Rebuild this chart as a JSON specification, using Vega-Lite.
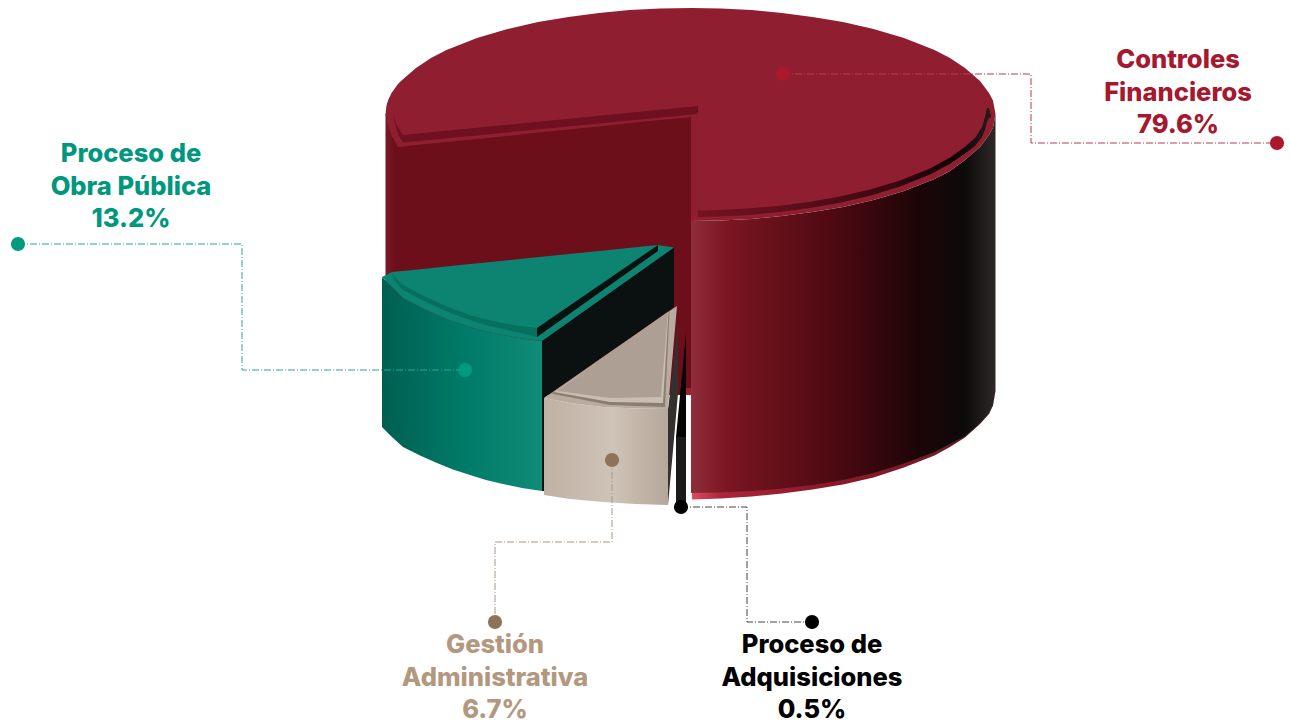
{"$schema":"https://vega.github.io/schema/vega-lite/v6.json","width":1290,"height":721,"padding":0,"autosize":"none","background":"white","config":{"view":{"stroke":null}},
"data":{"values":[
{"part":"back","x":385.5,"y":114,"y2":395},{"part":"back","x":691,"y":117,"y2":395},
{"part":"backEdge","x":684,"y":388,"y2":395},{"part":"backEdge","x":691,"y":388,"y2":395},
{"part":"lip","x":692,"y":492,"y2":499.5},{"part":"lip","x":721,"y":491,"y2":498.5},{"part":"lip","x":751.5,"y":490,"y2":496.5},{"part":"lip","x":782,"y":487.5,"y2":493.5},{"part":"lip","x":812.5,"y":484,"y2":489.5},{"part":"lip","x":843,"y":479,"y2":484.5},{"part":"lip","x":873.5,"y":472,"y2":477.5},{"part":"lip","x":904,"y":462.5,"y2":467.5},{"part":"lip","x":934.5,"y":451,"y2":455.5},{"part":"lip","x":950,"y":443,"y2":447},{"part":"lip","x":965,"y":435,"y2":437.5},{"part":"lip","x":980,"y":422,"y2":424},{"part":"lip","x":989,"y":412,"y2":414},{"part":"lip","x":993,"y":404,"y2":405.5},{"part":"lip","x":995.5,"y":391,"y2":391},
{"part":"wall","x":691,"y":221,"y2":493},{"part":"wall","x":721,"y":220.5,"y2":492.5},{"part":"wall","x":751.5,"y":219,"y2":491},{"part":"wall","x":782,"y":216,"y2":488.5},{"part":"wall","x":812.5,"y":212,"y2":485},{"part":"wall","x":843,"y":207,"y2":480},{"part":"wall","x":873.5,"y":200,"y2":473},{"part":"wall","x":904,"y":191,"y2":463.5},{"part":"wall","x":934.5,"y":179,"y2":452},{"part":"wall","x":950,"y":171,"y2":444},{"part":"wall","x":965,"y":160,"y2":436},{"part":"wall","x":980,"y":147,"y2":423},{"part":"wall","x":989,"y":135,"y2":413},{"part":"wall","x":993,"y":127.5,"y2":405},{"part":"wall","x":995.5,"y":114,"y2":391},
{"part":"plateR","x":691,"y":8,"y2":221},{"part":"plateR","x":721,"y":8.5,"y2":220.5},{"part":"plateR","x":751.5,"y":10,"y2":219},{"part":"plateR","x":782,"y":13,"y2":216},{"part":"plateR","x":812.5,"y":17,"y2":212},{"part":"plateR","x":843,"y":22,"y2":207},{"part":"plateR","x":873.5,"y":29,"y2":200},{"part":"plateR","x":904,"y":38,"y2":191},{"part":"plateR","x":934.5,"y":50,"y2":179},{"part":"plateR","x":950,"y":58,"y2":171},{"part":"plateR","x":965,"y":68,"y2":160},{"part":"plateR","x":980,"y":81,"y2":147},{"part":"plateR","x":989,"y":93,"y2":135},{"part":"plateR","x":993,"y":100.5,"y2":127.5},{"part":"plateR","x":995.5,"y":114,"y2":114},
{"part":"plateL","x":385.5,"y":114,"y2":114},{"part":"plateL","x":386.5,"y":105.5,"y2":118},{"part":"plateL","x":388,"y":100.6,"y2":125},{"part":"plateL","x":391.5,"y":93,"y2":135},{"part":"plateL","x":398,"y":84,"y2":147},{"part":"plateL","x":401,"y":81,"y2":146.7},{"part":"plateL","x":416,"y":68,"y2":145},{"part":"plateL","x":431,"y":58,"y2":143.5},{"part":"plateL","x":446.5,"y":50,"y2":142},{"part":"plateL","x":477,"y":38,"y2":139},{"part":"plateL","x":507.5,"y":29,"y2":136},{"part":"plateL","x":538,"y":22,"y2":132.5},{"part":"plateL","x":568.5,"y":17,"y2":129.5},{"part":"plateL","x":599,"y":13,"y2":126.5},{"part":"plateL","x":629.5,"y":10,"y2":123},{"part":"plateL","x":660,"y":8.5,"y2":120},{"part":"plateL","x":692,"y":8,"y2":117},
{"part":"cutStrip","x":393,"y":113,"y2":113},{"part":"cutStrip","x":396,"y":124,"y2":128},{"part":"cutStrip","x":399,"y":129,"y2":136},{"part":"cutStrip","x":403,"y":135,"y2":142.5},{"part":"cutStrip","x":698,"y":106,"y2":114},
{"part":"ringStrip","x":698,"y":210.5,"y2":217},{"part":"ringStrip","x":720,"y":210,"y2":216.5},{"part":"ringStrip","x":750,"y":208.3,"y2":214.9},{"part":"ringStrip","x":780,"y":205.7,"y2":212.1},{"part":"ringStrip","x":810,"y":201.8,"y2":208.1},{"part":"ringStrip","x":840,"y":196.5,"y2":202.8},{"part":"ringStrip","x":870,"y":189.5,"y2":195.7},{"part":"ringStrip","x":900,"y":180.5,"y2":186.6},{"part":"ringStrip","x":930,"y":168.4,"y2":174.6},{"part":"ringStrip","x":950,"y":157.5,"y2":163.8},{"part":"ringStrip","x":965,"y":146.7,"y2":153.4},{"part":"ringStrip","x":975,"y":138,"y2":146},{"part":"ringStrip","x":982,"y":127,"y2":137},{"part":"ringStrip","x":985,"y":117,"y2":130},{"part":"ringStrip","x":987,"y":108,"y2":122},{"part":"ringStrip","x":989,"y":108,"y2":118},{"part":"ringStrip","x":991,"y":116,"y2":117},
{"part":"blackFace","x":542,"y":341,"y2":399},{"part":"blackFace","x":544,"y":339.6,"y2":398},{"part":"blackFace","x":674,"y":247.5,"y2":307},
{"part":"greenEdge","x":542,"y":341,"y2":491},{"part":"greenEdge","x":544.5,"y":341,"y2":491},
{"part":"greenWall","x":382,"y":277,"y2":427},{"part":"greenWall","x":392,"y":287,"y2":437},{"part":"greenWall","x":403,"y":298,"y2":447},{"part":"greenWall","x":420,"y":307,"y2":455.5},{"part":"greenWall","x":437,"y":315,"y2":463},{"part":"greenWall","x":453,"y":321.5,"y2":469.5},{"part":"greenWall","x":470,"y":327,"y2":475},{"part":"greenWall","x":486,"y":331.5,"y2":480},{"part":"greenWall","x":503,"y":335,"y2":484},{"part":"greenWall","x":522,"y":338.5,"y2":488},{"part":"greenWall","x":542,"y":341,"y2":491},
{"part":"greenTop","x":382,"y":277,"y2":277},{"part":"greenTop","x":392,"y":272,"y2":287},{"part":"greenTop","x":403,"y":270.9,"y2":298},{"part":"greenTop","x":420,"y":269.2,"y2":307},{"part":"greenTop","x":437,"y":267.4,"y2":315},{"part":"greenTop","x":453,"y":265.8,"y2":321.5},{"part":"greenTop","x":470,"y":264.1,"y2":327},{"part":"greenTop","x":486,"y":262.4,"y2":331.5},{"part":"greenTop","x":503,"y":260.7,"y2":335},{"part":"greenTop","x":522,"y":258.8,"y2":338.5},{"part":"greenTop","x":542,"y":256.8,"y2":341},{"part":"greenTop","x":658,"y":245,"y2":258.8},{"part":"greenTop","x":674,"y":247.5,"y2":247.5},
{"part":"greenStrip","x":391.5,"y":272,"y2":272},{"part":"greenStrip","x":394,"y":276,"y2":280},{"part":"greenStrip","x":403,"y":285,"y2":290},{"part":"greenStrip","x":420,"y":294,"y2":299},{"part":"greenStrip","x":437,"y":302,"y2":307},{"part":"greenStrip","x":453,"y":309,"y2":314},{"part":"greenStrip","x":470,"y":315,"y2":320},{"part":"greenStrip","x":486,"y":319.5,"y2":325},{"part":"greenStrip","x":503,"y":323,"y2":329},{"part":"greenStrip","x":520,"y":326,"y2":333},{"part":"greenStrip","x":537,"y":328,"y2":337},
{"part":"greenDark","x":537,"y":328,"y2":337},{"part":"greenDark","x":658,"y":245,"y2":251},
{"part":"wedge","x":676,"y":437,"y2":437},{"part":"wedge","x":686,"y":333,"y2":437},
{"part":"stem","x":676,"y":437,"y2":506},{"part":"stem","x":686,"y":437,"y2":506},
{"part":"tanSide","x":668,"y":409,"y2":505},{"part":"tanSide","x":673,"y":370,"y2":450},{"part":"tanSide","x":678,"y":320,"y2":393},
{"part":"tanWall","x":544,"y":398,"y2":495},{"part":"tanWall","x":570,"y":403,"y2":499},{"part":"tanWall","x":603,"y":407,"y2":502},{"part":"tanWall","x":635,"y":408.5,"y2":504},{"part":"tanWall","x":668,"y":409,"y2":505},
{"part":"tanTop","x":544,"y":398,"y2":398},{"part":"tanTop","x":570,"y":380,"y2":403},{"part":"tanTop","x":603,"y":357,"y2":407},{"part":"tanTop","x":635,"y":335,"y2":408.5},{"part":"tanTop","x":668,"y":312,"y2":409},{"part":"tanTop","x":677,"y":306,"y2":306},
{"part":"tanDark","x":551,"y":393.5,"y2":393.5},{"part":"tanDark","x":610,"y":352.5,"y2":405},{"part":"tanDark","x":665,"y":314,"y2":407},{"part":"tanDark","x":669.5,"y":311,"y2":311},
{"part":"tanBand","x":554,"y":392,"y2":392},{"part":"tanBand","x":610,"y":353,"y2":402},{"part":"tanBand","x":663,"y":316,"y2":403},{"part":"tanBand","x":668.5,"y":312,"y2":312},
{"part":"tanFace","x":557,"y":391,"y2":391},{"part":"tanFace","x":610,"y":353,"y2":398},{"part":"tanFace","x":661,"y":317,"y2":397},{"part":"tanFace","x":668,"y":312,"y2":312},
{"part":"leader","category":"Controles Financieros","seq":1,"x":783,"y":74},{"part":"leader","category":"Controles Financieros","seq":2,"x":1031,"y":74},{"part":"leader","category":"Controles Financieros","seq":3,"x":1031,"y":143},{"part":"leader","category":"Controles Financieros","seq":4,"x":1277,"y":143},
{"part":"leader","category":"Proceso de Obra Pública","seq":1,"x":18,"y":244},{"part":"leader","category":"Proceso de Obra Pública","seq":2,"x":242,"y":244},{"part":"leader","category":"Proceso de Obra Pública","seq":3,"x":242,"y":370},{"part":"leader","category":"Proceso de Obra Pública","seq":4,"x":465,"y":370},
{"part":"leader","category":"Gestión Administrativa","seq":1,"x":612,"y":460},{"part":"leader","category":"Gestión Administrativa","seq":2,"x":612,"y":542},{"part":"leader","category":"Gestión Administrativa","seq":3,"x":495,"y":542},{"part":"leader","category":"Gestión Administrativa","seq":4,"x":495,"y":622},
{"part":"leader","category":"Proceso de Adquisiciones","seq":1,"x":681,"y":507},{"part":"leader","category":"Proceso de Adquisiciones","seq":2,"x":747,"y":507},{"part":"leader","category":"Proceso de Adquisiciones","seq":3,"x":747,"y":622},{"part":"leader","category":"Proceso de Adquisiciones","seq":4,"x":812,"y":622},
{"part":"dot","category":"Controles Financieros","x":783,"y":74},{"part":"dot","category":"Controles Financieros","x":1277,"y":143},
{"part":"dot","category":"Proceso de Obra Pública","x":465,"y":370},{"part":"dot","category":"Proceso de Obra Pública","x":18,"y":244},
{"part":"dot","category":"Gestión Administrativa","x":612,"y":460},{"part":"dot","category":"Gestión Administrativa","x":495,"y":622},
{"part":"dot","category":"Proceso de Adquisiciones","x":681,"y":507},{"part":"dot","category":"Proceso de Adquisiciones","x":812,"y":622},
{"part":"label","category":"Controles Financieros","value":79.6,"label":"Controles\nFinancieros\n79.6%","x":1178,"y":60},
{"part":"label","category":"Proceso de Obra Pública","value":13.2,"label":"Proceso de\nObra Pública\n13.2%","x":131,"y":154},
{"part":"label","category":"Gestión Administrativa","value":6.7,"label":"Gestión\nAdministrativa\n6.7%","x":495,"y":645},
{"part":"label","category":"Proceso de Adquisiciones","value":0.5,"label":"Proceso de\nAdquisiciones\n0.5%","x":812,"y":645}
]},
"encoding":{
"x":{"field":"x","type":"quantitative","axis":null,"scale":{"domain":[0,1290],"nice":false,"zero":false}},
"y":{"field":"y","type":"quantitative","axis":null,"scale":{"domain":[0,721],"reverse":true,"nice":false,"zero":false}}},
"layer":[
{"transform":[{"filter":"datum.part==='back'"}],"mark":{"type":"area","color":{"gradient":"linear","x1":0,"x2":1,"y1":0,"y2":0,"stops":[{"offset":0,"color":"#7a1a26"},{"offset":0.03,"color":"#6c0f1b"},{"offset":1,"color":"#6c0f1b"}]}},"encoding":{"y2":{"field":"y2"}}},
{"transform":[{"filter":"datum.part==='backEdge'"}],"mark":{"type":"area","color":"#a01f30"},"encoding":{"y2":{"field":"y2"}}},
{"transform":[{"filter":"datum.part==='lip'"}],"mark":{"type":"area","color":{"gradient":"linear","x1":0,"x2":1,"y1":0,"y2":0,"stops":[{"offset":0,"color":"#dc4c60"},{"offset":0.1,"color":"#a8263a"},{"offset":0.4,"color":"#8f1a2c"},{"offset":0.7,"color":"#7a1a28"},{"offset":1,"color":"#4a2a2c"}]}},"encoding":{"y2":{"field":"y2"}}},
{"transform":[{"filter":"datum.part==='wall'"}],"mark":{"type":"area","color":{"gradient":"linear","x1":0,"x2":1,"y1":0,"y2":0,"stops":[{"offset":0,"color":"#8f2d3a"},{"offset":0.12,"color":"#7a1622"},{"offset":0.45,"color":"#500a12"},{"offset":0.75,"color":"#1c0507"},{"offset":0.9,"color":"#0c0a0a"},{"offset":1,"color":"#2e2927"}]}},"encoding":{"y2":{"field":"y2"}}},
{"transform":[{"filter":"datum.part==='plateR'"}],"mark":{"type":"area","color":"#8f1f30"},"encoding":{"y2":{"field":"y2"}}},
{"transform":[{"filter":"datum.part==='plateL'"}],"mark":{"type":"area","color":"#8f1f30"},"encoding":{"y2":{"field":"y2"}}},
{"transform":[{"filter":"datum.part==='cutStrip'"}],"mark":{"type":"area","color":"#6e1020"},"encoding":{"y2":{"field":"y2"}}},
{"transform":[{"filter":"datum.part==='ringStrip'"}],"mark":{"type":"area","color":{"gradient":"linear","x1":0,"x2":1,"y1":0,"y2":0,"stops":[{"offset":0,"color":"#751222"},{"offset":0.3,"color":"#5f0e1a"},{"offset":0.65,"color":"#3a0810"},{"offset":0.88,"color":"#0d0505"},{"offset":1,"color":"#2a1a1a"}]}},"encoding":{"y2":{"field":"y2"}}},
{"transform":[{"filter":"datum.part==='blackFace'"}],"mark":{"type":"area","color":"#0a1110"},"encoding":{"y2":{"field":"y2"}}},
{"transform":[{"filter":"datum.part==='greenEdge'"}],"mark":{"type":"area","color":"#0a1110"},"encoding":{"y2":{"field":"y2"}}},
{"transform":[{"filter":"datum.part==='greenWall'"}],"mark":{"type":"area","color":{"gradient":"linear","x1":0,"x2":1,"y1":0,"y2":0,"stops":[{"offset":0,"color":"#005f51"},{"offset":0.5,"color":"#007a68"},{"offset":1,"color":"#0f8b78"}]}},"encoding":{"y2":{"field":"y2"}}},
{"transform":[{"filter":"datum.part==='greenTop'"}],"mark":{"type":"area","color":"#0d8471"},"encoding":{"y2":{"field":"y2"}}},
{"transform":[{"filter":"datum.part==='greenStrip'"}],"mark":{"type":"area","color":"#066f5e"},"encoding":{"y2":{"field":"y2"}}},
{"transform":[{"filter":"datum.part==='greenDark'"}],"mark":{"type":"area","color":"#07110f"},"encoding":{"y2":{"field":"y2"}}},
{"transform":[{"filter":"datum.part==='wedge'"}],"mark":{"type":"area","color":"#050505"},"encoding":{"y2":{"field":"y2"}}},
{"transform":[{"filter":"datum.part==='stem'"}],"mark":{"type":"area","color":"#1a1a1a"},"encoding":{"y2":{"field":"y2"}}},
{"transform":[{"filter":"datum.part==='tanSide'"}],"mark":{"type":"area","color":"#33302e"},"encoding":{"y2":{"field":"y2"}}},
{"transform":[{"filter":"datum.part==='tanWall'"}],"mark":{"type":"area","color":{"gradient":"linear","x1":0,"x2":1,"y1":0,"y2":0,"stops":[{"offset":0,"color":"#bfb1a4"},{"offset":0.55,"color":"#cfc3b7"},{"offset":1,"color":"#b5a799"}]}},"encoding":{"y2":{"field":"y2"}}},
{"transform":[{"filter":"datum.part==='tanTop'"}],"mark":{"type":"area","color":"#b9ab9e"},"encoding":{"y2":{"field":"y2"}}},
{"transform":[{"filter":"datum.part==='tanDark'"}],"mark":{"type":"area","color":"#8a7d72"},"encoding":{"y2":{"field":"y2"}}},
{"transform":[{"filter":"datum.part==='tanBand'"}],"mark":{"type":"area","color":"#cabeb2"},"encoding":{"y2":{"field":"y2"}}},
{"transform":[{"filter":"datum.part==='tanFace'"}],"mark":{"type":"area","color":"#ad9f94"},"encoding":{"y2":{"field":"y2"}}},
{"transform":[{"filter":"datum.part==='leader'"}],"mark":{"type":"line","strokeWidth":1,"strokeDash":[7,2,1,2],"interpolate":"linear"},"encoding":{"order":{"field":"seq","type":"quantitative"},"color":{"field":"category","type":"nominal","legend":null,"scale":{"domain":["Controles Financieros","Proceso de Obra Pública","Gestión Administrativa","Proceso de Adquisiciones"],"range":["#c0384c","#2aa893","#a8968a","#444444"]}}}},
{"transform":[{"filter":"datum.part==='dot'"}],"mark":{"type":"circle","size":200,"opacity":1},"encoding":{"color":{"field":"category","type":"nominal","legend":null,"scale":{"domain":["Controles Financieros","Proceso de Obra Pública","Gestión Administrativa","Proceso de Adquisiciones"],"range":["#ab182d","#009a80","#8f7358","#000000"]}}}},
{"transform":[{"filter":"datum.part==='label'"}],"mark":{"type":"text","font":"Inter","fontWeight":800,"fontSize":25.5,"lineHeight":32.5,"lineBreak":"\n","align":"center","baseline":"middle"},"encoding":{"text":{"field":"label","type":"nominal"},"color":{"field":"category","type":"nominal","legend":null,"scale":{"domain":["Controles Financieros","Proceso de Obra Pública","Gestión Administrativa","Proceso de Adquisiciones"],"range":["#a5182e","#00977f","#b39880","#000000"]}}}}
],
"resolve":{"scale":{"color":"independent"}}}
